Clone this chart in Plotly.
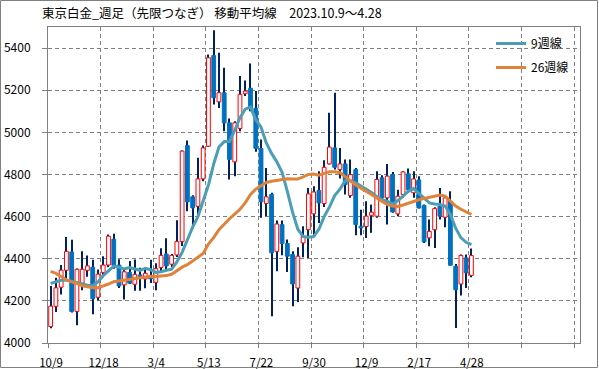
import plotly.graph_objects as go

tick_labels = ["10/9", "12/18", "3/4", "5/13", "7/22", "9/30", "12/9", "2/17", "4/28", "", ""]

opens = [4078, 4174, 4265, 4345, 4432, 4150, 4284, 4345, 4360, 4217,
         4335, 4370, 4493, 4370, 4276, 4335, 4279, 4323, 4304, 4320,
         4288, 4358, 4422, 4374, 4418, 4481, 4937, 4694, 4649, 4779,
         4934, 5365, 5145, 5188, 5045, 4860, 5018, 5183, 5209, 5114,
         4923, 4662, 4705, 4435, 4562, 4472, 4420, 4261, 4475, 4538,
         4613, 4724, 4662, 4850, 4926, 4823, 4850, 4700, 4823, 4554,
         4553, 4606, 4602, 4784, 4689, 4800, 4613, 4705, 4803, 4713,
         4774, 4652, 4499, 4538, 4649, 4597, 4673, 4364, 4280, 4404,
         4321]
highs = [4270, 4310, 4370, 4503, 4490, 4354, 4435, 4415, 4395, 4349,
         4412, 4515, 4518, 4397, 4350, 4389, 4396, 4357, 4357, 4395,
         4378, 4450, 4497, 4422, 4583, 4914, 4961, 4701, 4879, 4937,
         5370, 5484, 5378, 5306, 5066, 5053, 5267, 5246, 5327, 5196,
         4966, 4831, 4713, 4581, 4581, 4491, 4435, 4454, 4554, 4736,
         4744, 4815, 4868, 5093, 5188, 4926, 4871, 4871, 4831, 4633,
         4673, 4657, 4815, 4796, 4850, 4812, 4728, 4815, 4828, 4815,
         4792, 4657, 4586, 4644, 4736, 4701, 4720, 4375, 4420, 4420,
         4448]
lows = [4070, 4147, 4230, 4300, 4145, 4084, 4250, 4315, 4136, 4203,
        4312, 4360, 4353, 4261, 4206, 4280, 4248, 4248, 4260, 4285,
        4250, 4335, 4340, 4360, 4408, 4460, 4625, 4543, 4594, 4768,
        4930, 5132, 5116, 5005, 4776, 4792, 5005, 5172, 5100, 4908,
        4594, 4602, 4127, 4340, 4416, 4337, 4174, 4195, 4407, 4404,
        4511, 4570, 4646, 4847, 4823, 4781, 4705, 4689, 4511, 4511,
        4499, 4523, 4594, 4673, 4562, 4618, 4602, 4689, 4713, 4689,
        4638, 4475, 4459, 4451, 4586, 4549, 4369, 4071, 4226, 4261,
        4312]
closes = [4175, 4262, 4346, 4435, 4150, 4350, 4350, 4366, 4210, 4327,
          4370, 4507, 4369, 4271, 4338, 4284, 4326, 4308, 4331, 4305,
          4353, 4416, 4366, 4416, 4481, 4911, 4670, 4641, 4779, 4926,
          5354, 5164, 5188, 5045, 4871, 5045, 5180, 5196, 5114, 4924,
          4670, 4694, 4428, 4565, 4472, 4412, 4280, 4412, 4507, 4708,
          4717, 4665, 4834, 4930, 4834, 4850, 4752, 4800, 4562, 4546,
          4602, 4621, 4776, 4689, 4792, 4622, 4697, 4812, 4728, 4779,
          4641, 4480, 4530, 4638, 4602, 4689, 4369, 4253, 4415, 4333,
          4415]
ma9 = [4283, 4292, 4298, 4299, 4292, 4285, 4278, 4274, 4272, 4290,
       4320, 4345, 4365, 4360, 4352, 4358, 4350, 4345, 4355, 4348,
       4335, 4338, 4345, 4350, 4385, 4430, 4490, 4550, 4600, 4670,
       4750, 4850, 4930, 4956, 4956, 5010, 5070, 5110, 5120, 5060,
       5025, 4950, 4900, 4860, 4810, 4720, 4620, 4540, 4505, 4502,
       4505, 4540, 4600, 4645, 4700, 4730, 4770, 4770, 4760, 4745,
       4730, 4715, 4695, 4680, 4673, 4660, 4675, 4700, 4720, 4733,
       4710, 4685, 4665, 4660, 4657, 4650, 4610, 4545, 4500, 4478,
       4467]
ma26 = [4340, 4330, 4316, 4300, 4290, 4283, 4272, 4268, 4262, 4262,
        4270, 4280, 4291, 4295, 4298, 4300, 4305, 4310, 4315, 4317,
        4316, 4318, 4320, 4326, 4345, 4360, 4372, 4390, 4404, 4425,
        4470, 4500, 4538, 4565, 4590, 4612, 4635, 4665, 4705, 4730,
        4745, 4762, 4768, 4772, 4777, 4780, 4778, 4778, 4788, 4800,
        4802, 4797, 4805, 4813, 4813, 4808, 4790, 4770, 4750, 4735,
        4722, 4705, 4688, 4672, 4657, 4650, 4648, 4655, 4664, 4672,
        4680, 4686, 4692, 4697, 4702, 4697, 4675, 4650, 4635, 4622,
        4610]

n = len(closes)
xs = [i + 0.5 for i in range(n)]

UP = "#FF0000"
DOWN = "#0070C0"
WICK = "#002060"

fig = go.Figure()

# wicks (high-low)
fig.add_trace(go.Bar(
    x=xs, base=lows, y=[h - l for h, l in zip(highs, lows)],
    width=0.2, marker=dict(color=WICK, line=dict(width=0)),
    showlegend=False, hoverinfo="skip"))

# bodies (open-close)
fig.add_trace(go.Bar(
    x=xs,
    base=[min(o, c) for o, c in zip(opens, closes)],
    y=[abs(c - o) for o, c in zip(opens, closes)],
    width=0.72,
    marker=dict(color=["#FFFFFF" if c >= o else DOWN for o, c in zip(opens, closes)],
                line=dict(color=[UP if c >= o else DOWN for o, c in zip(opens, closes)], width=1)),
    showlegend=False, hoverinfo="skip"))

fig.add_trace(go.Scatter(x=xs, y=ma9, mode="lines", name="9週線",
                         line=dict(color="#4A9EB8", width=3), legendgroup="a"))
fig.add_trace(go.Scatter(x=xs, y=ma26, mode="lines", name="26週線",
                         line=dict(color="#E0833A", width=3), legendgroup="b"))

W, H = 599, 369
L, R, T, B = 48, 19, 27, 26
pw, ph = W - L - R, H - T - B

fig.update_layout(
    width=W, height=H,
    margin=dict(l=L, r=R, t=T, b=B),
    paper_bgcolor="white", plot_bgcolor="white",
    barmode="overlay",
    font=dict(family="Noto Sans CJK JP, Noto Sans", size=12, color="#000000"),
    title=dict(text="東京白金_週足（先限つなぎ） 移動平均線　2023.10.9～4.28",
               x=42 / W, xanchor="left", xref="container",
               y=1 - 13.5 / H, yanchor="middle", yref="container",
               font=dict(size=12.5, color="#000000")),
    legend=dict(x=(491 - L) / pw, y=(H - B - 29) / ph, xanchor="left", yanchor="top",
                bgcolor="rgba(0,0,0,0)", font=dict(size=12), tracegroupgap=5),
    xaxis=dict(range=[0, pw / 5.26], tickmode="array",
               tickvals=[10 * k for k in range(len(tick_labels))], ticktext=tick_labels,
               showgrid=True, gridcolor="#808080", griddash="4px,3px", gridwidth=1,
               showline=True, linecolor="#808080", linewidth=1, mirror=True,
               ticks="outside", ticklen=4, tickcolor="#808080", zeroline=False,
               tickfont=dict(size=11.5),
               ticklabelshift=3, ticklabelstandoff=5, automargin=False),
    yaxis=dict(range=[4000, 5500], tickmode="linear", tick0=4000, dtick=200,
               showgrid=True, gridcolor="#808080", griddash="4px,3px", gridwidth=1,
               showline=True, linecolor="#808080", linewidth=1, mirror=True,
               ticks="outside", ticklen=5, tickcolor="#808080", zeroline=False,
               ticklabelstandoff=9, automargin=False),
    shapes=[dict(type="rect", xref="paper", yref="paper",
                 x0=(0.5 - L) / pw, x1=(W - 1.5 - L) / pw,
                 y0=(H - B - (H - 1.5)) / ph, y1=(H - B - 0.5) / ph,
                 line=dict(color="#808080", width=1), fillcolor="rgba(0,0,0,0)",
                 layer="above")],
)

fig.write_html("out.html", config={"displayModeBar": False},
               post_script="document.body.style.margin='0';")
